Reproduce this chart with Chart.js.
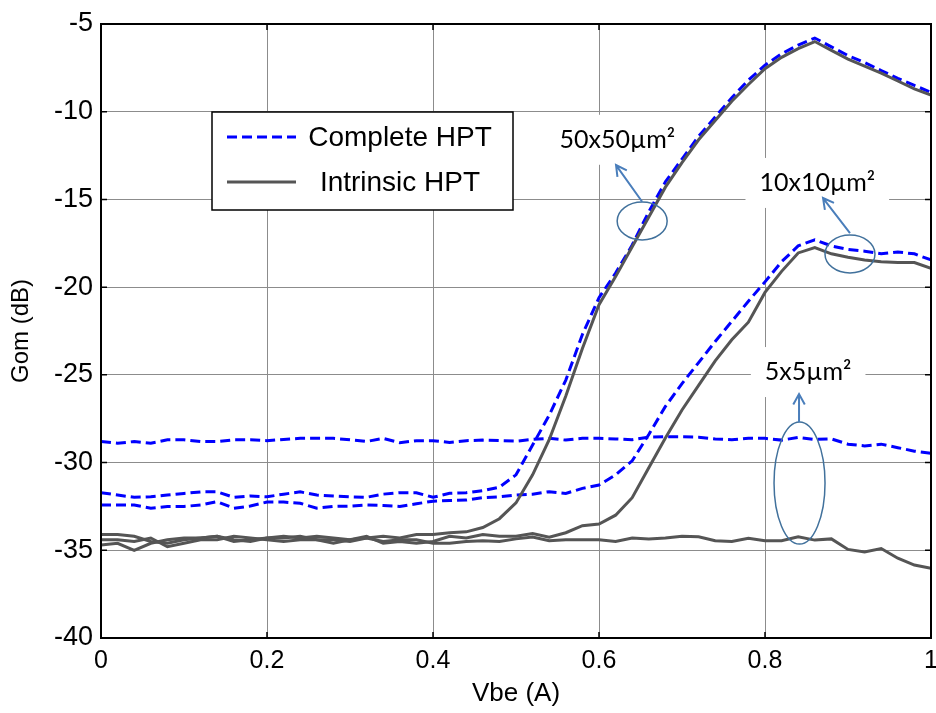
<!DOCTYPE html>
<html lang="en">
<head>
  <meta charset="UTF-8" />
  <title>Gom x Vbe</title>
  <style>
    body { margin: 0; background: #fff; }
    #wrap { width: 936px; height: 713px; }
  </style>
  <script src="https://cdn.jsdelivr.net/npm/chart.js"></script>
</head>
<body>
  <div id="wrap"><canvas id="grafico" width="936" height="713"></canvas></div>

  <script>
    // Eixo x (Vbe) e marcas dos eixos
    const vbe = [0, 0.02, 0.04, 0.06, 0.08, 0.1, 0.12, 0.14, 0.16, 0.18,
      0.2, 0.22, 0.24, 0.26, 0.28, 0.3, 0.32, 0.34, 0.36, 0.38,
      0.4, 0.42, 0.44, 0.46, 0.48, 0.5, 0.52, 0.54, 0.56, 0.58,
      0.6, 0.62, 0.64, 0.66, 0.68, 0.7, 0.72, 0.74, 0.76, 0.78,
      0.8, 0.82, 0.84, 0.86, 0.88, 0.9, 0.92, 0.94, 0.96, 0.98, 1];
    const xTicks = [0, 0.2, 0.4, 0.6, 0.8, 1];
    const yTicks = [-40, -35, -30, -25, -20, -15, -10, -5];

    // Gom (dB) - Complete HPT
    const complete5 = [-28.8, -28.9, -28.8, -28.9, -28.7, -28.7, -28.8, -28.8, -28.7, -28.7,
      -28.75, -28.68, -28.62, -28.62, -28.62, -28.7, -28.8, -28.62, -28.87, -28.75,
      -28.75, -28.85, -28.75, -28.72, -28.75, -28.78, -28.68, -28.62, -28.72, -28.62,
      -28.62, -28.65, -28.7, -28.55, -28.53, -28.53, -28.55, -28.65, -28.7, -28.62,
      -28.62, -28.72, -28.57, -28.68, -28.65, -28.95, -29.05, -28.95, -29.15, -29.35,
      -29.47];
    const complete10 = [-32.42, -32.42, -32.42, -32.6, -32.5, -32.5, -32.42, -32.23, -32.6, -32.48,
      -32.25, -32.25, -32.32, -32.6, -32.5, -32.48, -32.42, -32.45, -32.5, -32.35,
      -32.2, -32.16, -32.14, -32.0, -31.95, -31.85, -31.8, -31.66, -31.76, -31.47,
      -31.28, -30.7, -29.9, -28.4, -26.8, -25.5, -24.3, -23.1, -21.95, -20.8,
      -19.7, -18.55, -17.65, -17.3, -17.65, -17.85, -17.95, -18.1, -18.0, -18.1,
      -18.45];
    const complete50 = [-31.72, -31.85, -31.98, -31.95, -31.85, -31.76, -31.67, -31.67, -31.98, -31.9,
      -31.95, -31.8, -31.67, -31.85, -31.9, -31.95, -31.98, -31.8, -31.72, -31.72,
      -31.98, -31.75, -31.72, -31.6, -31.4, -30.7, -29.0, -27.3, -25.3, -22.7,
      -20.6, -19.2, -17.6, -15.7, -14.0, -12.7, -11.4, -10.3, -9.2, -8.2,
      -7.35, -6.7, -6.2, -5.8, -6.3, -6.8, -7.2, -7.65, -8.1, -8.5,
      -8.9];

    // Gom (dB) - Intrinsic HPT
    const intrinsic5 = [-34.7, -34.6, -35.0, -34.6, -34.4, -34.3, -34.3, -34.2, -34.5, -34.4,
      -34.3, -34.3, -34.2, -34.4, -34.4, -34.5, -34.3, -34.5, -34.4, -34.4,
      -34.6, -34.6, -34.5, -34.45, -34.5, -34.35, -34.25, -34.45, -34.4, -34.4,
      -34.4, -34.5, -34.3, -34.35, -34.3, -34.2, -34.23, -34.45, -34.5, -34.32,
      -34.46, -34.46, -34.23, -34.42, -34.35, -34.95, -35.1, -34.9, -35.45, -35.84,
      -36.03];
    const intrinsic10 = [-34.4, -34.4, -34.5, -34.3, -34.8, -34.6, -34.4, -34.4, -34.2, -34.3,
      -34.4, -34.5, -34.4, -34.4, -34.6, -34.4, -34.2, -34.6, -34.5, -34.6,
      -34.5, -34.2, -34.3, -34.1, -34.2, -34.2, -34.05, -34.25, -34.0, -33.6,
      -33.5, -33.0, -32.0, -30.3, -28.6, -27.0, -25.6, -24.2, -23.0, -22.0,
      -20.3, -19.1, -18.05, -17.75, -18.1, -18.3, -18.45, -18.55, -18.6, -18.6,
      -18.93];
    const intrinsic50 = [-34.1, -34.1, -34.2, -34.5, -34.6, -34.4, -34.3, -34.2, -34.4, -34.5,
      -34.3, -34.2, -34.3, -34.2, -34.3, -34.4, -34.3, -34.2, -34.3, -34.1,
      -34.1, -34.0, -33.95, -33.7, -33.2, -32.3, -30.7, -28.7, -26.2, -23.5,
      -21.0, -19.4, -17.7, -16.0, -14.3, -12.9, -11.6, -10.5, -9.4, -8.45,
      -7.55, -6.9, -6.4, -6.0, -6.5, -7.0, -7.4, -7.8, -8.25, -8.7,
      -9.05];

    const seriesNames = ['Complete HPT', 'Intrinsic HPT'];
    const sizeLabels = ['50x50\u00b5m\u00b2', '10x10\u00b5m\u00b2', '5x5\u00b5m\u00b2'];

    const AZUL = '#0000ff';
    const CINZA = '#555555';
    const FONTE = "'Liberation Sans', Arial, sans-serif";

    function serie(valores) {
      return vbe.map((x, i) => ({ x: x, y: valores[i] }));
    }

    function dsCompleto(valores, label) {
      return {
        label: label, data: serie(valores), borderColor: AZUL, borderWidth: 3,
        borderDash: [10, 5], pointRadius: 0, fill: false, tension: 0, order: 1
      };
    }
    function dsIntrinseco(valores, label) {
      return {
        label: label, data: serie(valores), borderColor: CINZA, borderWidth: 3,
        pointRadius: 0, fill: false, tension: 0, order: 0
      };
    }

    // anotacoes (em unidades de dados): texto, elipse e seta
    const notas = [
      { texto: sizeLabels[0], tx: 0.622, ty: -11.6, cx: 0.652, cy: -16.23, rx: 25, ry: 19, de: [0.652, -15.13], ate: [0.6205, -13.04] },
      { texto: sizeLabels[1], tx: 0.863, ty: -14.06, cx: 0.9024, cy: -18.11, rx: 25, ry: 19, de: [0.9024, -16.92], ate: [0.8699, -14.92] },
      { texto: sizeLabels[2], tx: 0.852, ty: -24.84, cx: 0.8416, cy: -31.17, rx: 25.5, ry: 61, de: [0.841, -27.69], ate: [0.841, -26.09] }
    ];

    const molduraPlugin = {
      id: 'moldura',
      beforeDatasetsDraw(chart) {
        const ctx = chart.ctx;
        const sx = chart.scales.x, sy = chart.scales.y;
        ctx.save();
        ctx.font = '25px Lato, sans-serif';
        notas.forEach(n => {
          const w = ctx.measureText(n.texto).width + 28;
          const px = sx.getPixelForValue(n.tx), py = sy.getPixelForValue(n.ty);
          ctx.fillStyle = '#fff';
          ctx.fillRect(px - w / 2, py - 25, w, 50);
        });
        ctx.restore();
      },
      afterDatasetsDraw(chart) {
        const ctx = chart.ctx;
        const a = chart.chartArea;
        const sx = chart.scales.x, sy = chart.scales.y;
        ctx.save();

        // anotacoes
        notas.forEach(n => {
          const px = sx.getPixelForValue(n.tx), py = sy.getPixelForValue(n.ty);
          ctx.fillStyle = '#000';
          ctx.font = '25px Lato, sans-serif';
          ctx.textAlign = 'center';
          ctx.textBaseline = 'middle';
          ctx.fillText(n.texto, px, py);

          ctx.strokeStyle = '#41719c';
          ctx.lineWidth = 1.5;
          ctx.beginPath();
          ctx.ellipse(sx.getPixelForValue(n.cx), sy.getPixelForValue(n.cy), n.rx, n.ry, 0, 0, Math.PI * 2);
          ctx.stroke();

          const x0 = sx.getPixelForValue(n.de[0]), y0 = sy.getPixelForValue(n.de[1]);
          const x1 = sx.getPixelForValue(n.ate[0]), y1 = sy.getPixelForValue(n.ate[1]);
          const ang = Math.atan2(y1 - y0, x1 - x0);
          ctx.strokeStyle = '#4a7ebb';
          ctx.lineWidth = 2;
          ctx.beginPath();
          ctx.moveTo(x0, y0);
          ctx.lineTo(x1, y1);
          ctx.moveTo(x1 - 12 * Math.cos(ang - 0.5), y1 - 12 * Math.sin(ang - 0.5));
          ctx.lineTo(x1, y1);
          ctx.lineTo(x1 - 12 * Math.cos(ang + 0.5), y1 - 12 * Math.sin(ang + 0.5));
          ctx.stroke();
        });

        // legenda
        const lx = 212, ly = 112, lw = 301, lh = 98;
        ctx.fillStyle = '#fff';
        ctx.fillRect(lx, ly, lw, lh);
        ctx.strokeStyle = '#000';
        ctx.lineWidth = 1.5;
        ctx.strokeRect(lx, ly, lw, lh);
        const itens = chart.data.datasets.slice(0, 2);
        itens.forEach((ds, i) => {
          const yy = ly + 25 + i * 45;
          ctx.strokeStyle = ds.borderColor;
          ctx.lineWidth = 3;
          ctx.setLineDash(ds.borderDash || []);
          ctx.beginPath();
          ctx.moveTo(lx + 15, yy);
          ctx.lineTo(lx + 84, yy);
          ctx.stroke();
          ctx.setLineDash([]);
          ctx.fillStyle = '#000';
          ctx.font = '28px ' + FONTE;
          ctx.textAlign = 'center';
          ctx.textBaseline = 'middle';
          ctx.fillText(seriesNames[i], lx + 188, yy + 1);
        });

        // moldura e tracinhos internos
        ctx.strokeStyle = '#000';
        ctx.lineWidth = 2;
        ctx.strokeRect(a.left, a.top, a.right - a.left, a.bottom - a.top);
        ctx.lineWidth = 1.5;
        ctx.beginPath();
        xTicks.forEach(v => {
          const p = sx.getPixelForValue(v);
          ctx.moveTo(p, a.bottom); ctx.lineTo(p, a.bottom - 6);
          ctx.moveTo(p, a.top); ctx.lineTo(p, a.top + 6);
        });
        yTicks.forEach(v => {
          const p = sy.getPixelForValue(v);
          ctx.moveTo(a.left, p); ctx.lineTo(a.left + 6, p);
          ctx.moveTo(a.right, p); ctx.lineTo(a.right - 6, p);
        });
        ctx.stroke();
        ctx.restore();
      }
    };

    const ctx = document.getElementById('grafico').getContext('2d');
    new Chart(ctx, {
      type: 'line',
      data: {
        datasets: [
          dsCompleto(complete50, seriesNames[0]),
          dsIntrinseco(intrinsic50, seriesNames[1]),
          dsCompleto(complete10, seriesNames[0]),
          dsIntrinseco(intrinsic10, seriesNames[1]),
          dsCompleto(complete5, seriesNames[0]),
          dsIntrinseco(intrinsic5, seriesNames[1])
        ]
      },
      options: {
        responsive: false,
        animation: false,
        layout: { padding: { left: 0, right: 5, top: 24, bottom: 0 } },
        plugins: { legend: { display: false }, tooltip: { enabled: false } },
        scales: {
          x: {
            type: 'linear', min: 0, max: 1,
            afterBuildTicks: s => { s.ticks = xTicks.map(v => ({ value: v })); },
            afterFit: s => { s.height = 75; s.paddingLeft = 0; s.paddingRight = 0; },
            ticks: { callback: v => String(v), color: '#000', font: { family: FONTE, size: 25 }, padding: 8, maxRotation: 0, autoSkip: false },
            grid: { color: '#8c8c8c', lineWidth: 1, drawTicks: false },
            border: { display: false },
            title: { display: true, text: 'Vbe (A)', color: '#000', font: { family: FONTE, size: 26 }, padding: { top: 0, bottom: 4 } }
          },
          y: {
            type: 'linear', min: -40, max: -5,
            afterBuildTicks: s => { s.ticks = yTicks.map(v => ({ value: v })); },
            afterFit: s => { s.width = 101; s.paddingTop = 0; s.paddingBottom = 0; },
            ticks: { callback: v => String(v), color: '#000', font: { family: FONTE, size: 27 }, padding: 8, autoSkip: false },
            grid: { color: '#8c8c8c', lineWidth: 1, drawTicks: false },
            border: { display: false },
            title: { display: true, text: 'Gom (dB)', color: '#000', font: { family: FONTE, size: 24 }, padding: { top: 7, bottom: 0 } }
          }
        }
      },
      plugins: [molduraPlugin]
    });
  </script>
</body>
</html>
